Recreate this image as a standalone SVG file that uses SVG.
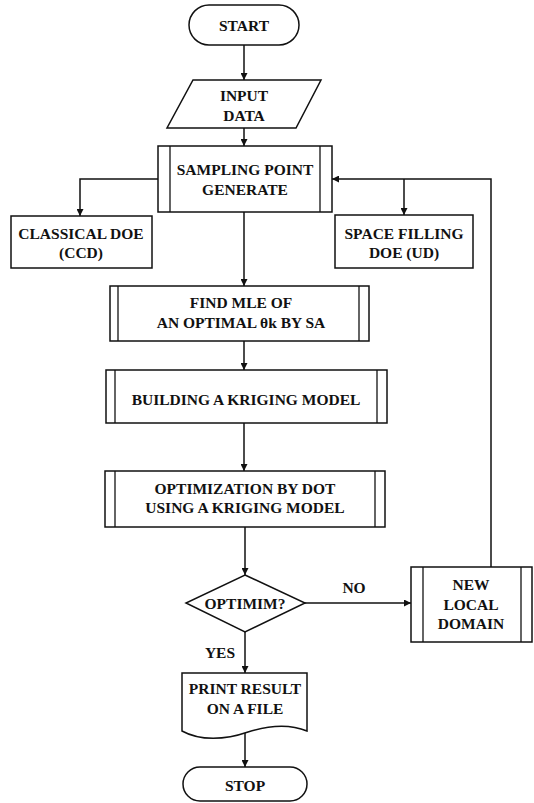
<svg xmlns="http://www.w3.org/2000/svg" width="534" height="803" viewBox="0 0 534 803">
  <style>
    .shape { fill: #ffffff; stroke: #111111; stroke-width: 1.5; }
    .inner { fill: none; stroke: #111111; stroke-width: 1.3; }
    .wire { fill: none; stroke: #111111; stroke-width: 1.5; }
    .label { font-family: "Liberation Serif", "Times New Roman", serif; font-weight: bold; font-size: 15.5px; fill: #111111; text-anchor: middle; dominant-baseline: central; }
  </style>
  <defs>
    <marker id="arrow" viewBox="0 0 10 10" refX="10" refY="5" markerWidth="7" markerHeight="7" markerUnits="userSpaceOnUse" orient="auto">
      <path d="M0,0 L10,5 L0,10 Z" fill="#111111"/>
    </marker>
  </defs>
  <rect width="534" height="803" fill="#ffffff"/>

  <!-- connectors -->
  <g id="connectors">
    <line class="wire" x1="244" y1="45" x2="244" y2="80" marker-end="url(#arrow)"/>
    <line class="wire" x1="244" y1="128" x2="244" y2="146" marker-end="url(#arrow)"/>
    <polyline class="wire" points="158,179 80,179 80,216" marker-end="url(#arrow)"/>
    <line class="wire" x1="404" y1="179" x2="404" y2="215" marker-end="url(#arrow)"/>
    <polyline class="wire" points="491,567 491,179 332,179" marker-end="url(#arrow)"/>
    <line class="wire" x1="244" y1="212" x2="244" y2="286" marker-end="url(#arrow)"/>
    <line class="wire" x1="244" y1="341" x2="244" y2="370" marker-end="url(#arrow)"/>
    <line class="wire" x1="244" y1="423" x2="244" y2="471" marker-end="url(#arrow)"/>
    <line class="wire" x1="245" y1="527" x2="245" y2="575" marker-end="url(#arrow)"/>
    <line class="wire" x1="305" y1="603" x2="411" y2="603" marker-end="url(#arrow)"/>
    <line class="wire" x1="245" y1="632" x2="245" y2="673" marker-end="url(#arrow)"/>
    <line class="wire" x1="245" y1="733" x2="245" y2="767" marker-end="url(#arrow)"/>
    <text class="label" x="354" y="587">NO</text>
    <text class="label" x="220" y="652">YES</text>
  </g>

  <g id="start">
    <rect class="shape" x="189" y="5" width="110" height="40" rx="20" ry="20"/>
    <text class="label" x="244" y="25">START</text>
  </g>

  <g id="input-data">
    <polygon class="shape" points="193,80 321,80 296,128 167,128"/>
    <text class="label" x="244" y="95">INPUT</text>
    <text class="label" x="244" y="115">DATA</text>
  </g>

  <g id="sampling">
    <rect class="shape" x="158" y="146" width="174" height="66"/>
    <line class="inner" x1="170" y1="146" x2="170" y2="212"/>
    <line class="inner" x1="320" y1="146" x2="320" y2="212"/>
    <text class="label" x="245" y="169">SAMPLING POINT</text>
    <text class="label" x="245" y="189">GENERATE</text>
  </g>

  <g id="classical-doe">
    <rect class="shape" x="11" y="216" width="141" height="52"/>
    <text class="label" x="81" y="233">CLASSICAL DOE</text>
    <text class="label" x="81" y="252">(CCD)</text>
  </g>

  <g id="space-filling-doe">
    <rect class="shape" x="335" y="215" width="138" height="53"/>
    <text class="label" x="404" y="233">SPACE FILLING</text>
    <text class="label" x="404" y="252">DOE (UD)</text>
  </g>

  <g id="find-mle">
    <rect class="shape" x="110" y="286" width="259" height="55"/>
    <line class="inner" x1="118" y1="286" x2="118" y2="341"/>
    <line class="inner" x1="359" y1="286" x2="359" y2="341"/>
    <text class="label" x="241" y="302">FIND MLE OF</text>
    <text class="label" x="241" y="322">AN OPTIMAL θk BY SA</text>
  </g>

  <g id="building-model">
    <rect class="shape" x="106" y="370" width="281" height="53"/>
    <line class="inner" x1="115" y1="370" x2="115" y2="423"/>
    <line class="inner" x1="377" y1="370" x2="377" y2="423"/>
    <text class="label" x="246" y="399">BUILDING A KRIGING MODEL</text>
  </g>

  <g id="optimization">
    <rect class="shape" x="105" y="471" width="280" height="56"/>
    <line class="inner" x1="115" y1="471" x2="115" y2="527"/>
    <line class="inner" x1="375" y1="471" x2="375" y2="527"/>
    <text class="label" x="245" y="488">OPTIMIZATION BY DOT</text>
    <text class="label" x="245" y="507">USING A KRIGING MODEL</text>
  </g>

  <g id="optimum-check">
    <polygon class="shape" points="245,575 305,603 245,632 186,603"/>
    <text class="label" x="245" y="603">OPTIMIM?</text>
  </g>

  <g id="new-local-domain">
    <rect class="shape" x="411" y="567" width="121" height="75"/>
    <line class="inner" x1="423" y1="567" x2="423" y2="642"/>
    <line class="inner" x1="521" y1="567" x2="521" y2="642"/>
    <text class="label" x="471" y="584">NEW</text>
    <text class="label" x="471" y="604">LOCAL</text>
    <text class="label" x="471" y="623">DOMAIN</text>
  </g>

  <g id="print-result">
    <path class="shape" d="M182,673 L307,673 L307,731 C290,724 270,725 248,732 C225,740 200,741 182,731 Z"/>
    <text class="label" x="245" y="688">PRINT RESULT</text>
    <text class="label" x="245" y="708">ON A FILE</text>
  </g>

  <g id="stop">
    <rect class="shape" x="183" y="767" width="124" height="34" rx="17" ry="17"/>
    <text class="label" x="245" y="785">STOP</text>
  </g>
</svg>
